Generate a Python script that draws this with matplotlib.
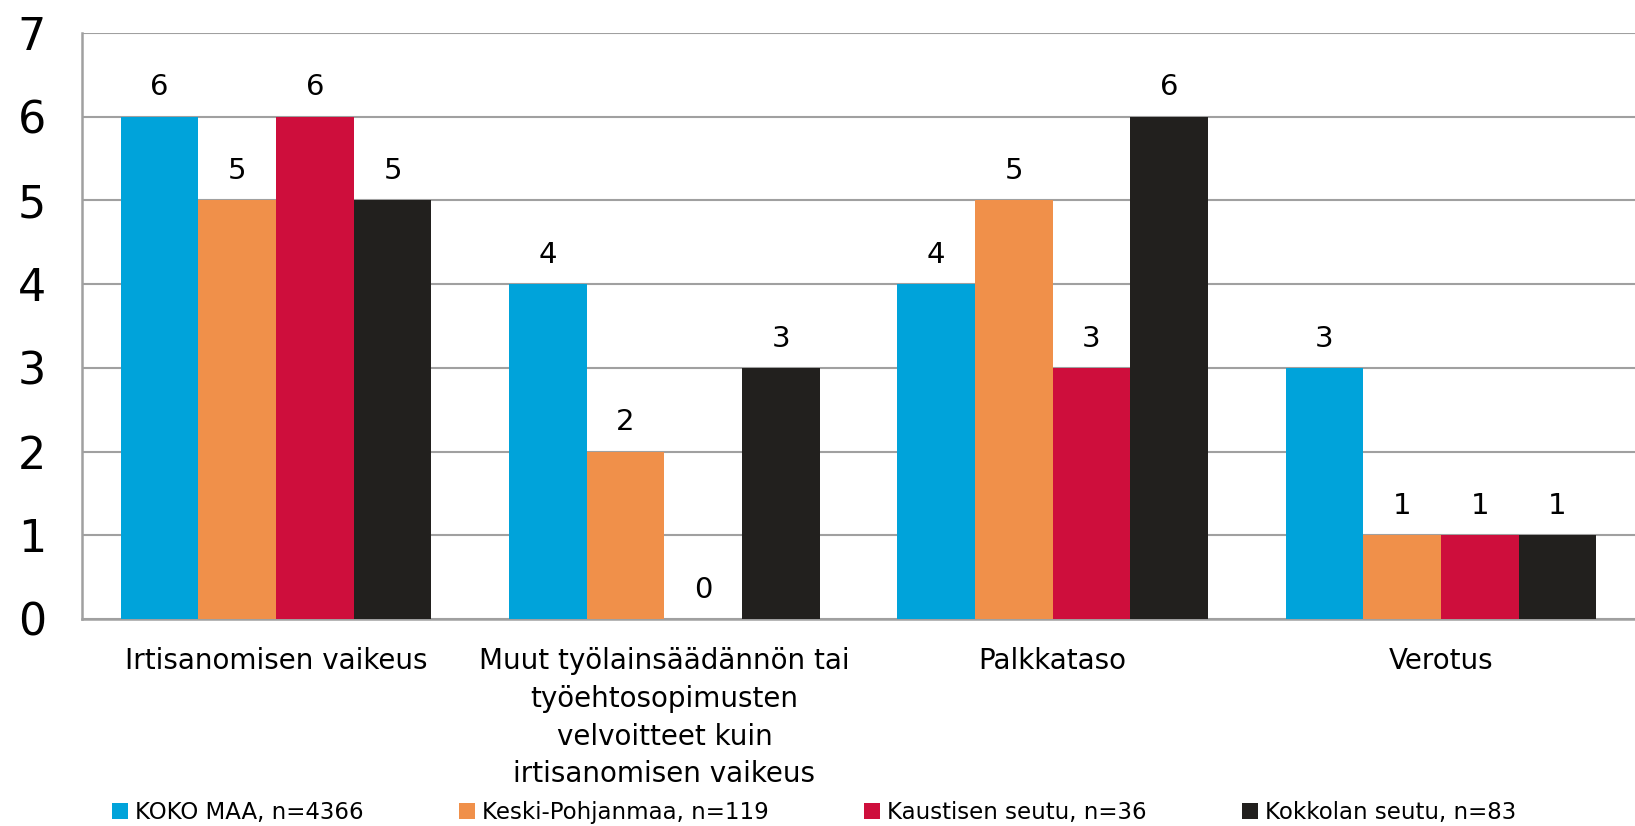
import numpy as np
from matplotlib import pyplot as plt

# Data
categories = ['Irtisanomisen vaikeus',
              'Muut työlainsäädännön tai\ntyöehtosopimusten\nvelvoitteet kuin\nirtisanomisen vaikeus',
              'Palkkataso',
              'Verotus']
series_names = ['KOKO MAA, n=4366', 'Keski-Pohjanmaa, n=119',
                'Kaustisen seutu, n=36', 'Kokkolan seutu, n=83']
koko_maa = [6, 4, 4, 3]
keski_pohjanmaa = [5, 2, 5, 1]
kaustinen = [6, 0, 3, 1]
kokkola = [5, 3, 6, 1]
values = [koko_maa, keski_pohjanmaa, kaustinen, kokkola]
colors = ['#00A3DA', '#F0904A', '#CE0E3C', '#22201E']

plt.rcParams['font.family'] = ['DejaVu Sans']

fig = plt.figure(figsize=(16.35, 8.26), dpi=100)
ax = fig.add_axes([82 / 1635, 1 - 619 / 826, (1635 - 82) / 1635, (619 - 33) / 826])

x = np.arange(len(categories))
w = 0.2
for i in range(4):
    b = ax.bar(x + (i - 1.5) * w, values[i], w, color=colors[i],
               label=series_names[i], zorder=3)
    ax.bar_label(b, padding=11, fontsize=21, color='black')

ax.set_xlim(-0.5, 3.5)
ax.set_ylim(0, 7)
ax.set_yticks(range(8))
ax.tick_params(axis='y', length=0, labelsize=32, pad=26)
ax.tick_params(axis='x', length=0, labelsize=20, pad=20)
ax.set_xticks(x)
ax.set_xticklabels(categories, linespacing=1.45)

ax.grid(axis='y', color='#a0a0a0', linewidth=1.5, zorder=0)
for s in ['top', 'right']:
    ax.spines[s].set_visible(False)
for s in ['left', 'bottom']:
    ax.spines[s].set_color('#a0a0a0')
    ax.spines[s].set_linewidth(1.8)

fig.legend(loc='center left', bbox_to_anchor=(0.063, 0.016, 0.87, 0.0), ncol=4,
           mode='expand', frameon=False, fontsize=16.5, handlelength=0.7,
           handleheight=0.7, handletextpad=0.3, borderaxespad=0)

plt.savefig('out.png', dpi=100)
